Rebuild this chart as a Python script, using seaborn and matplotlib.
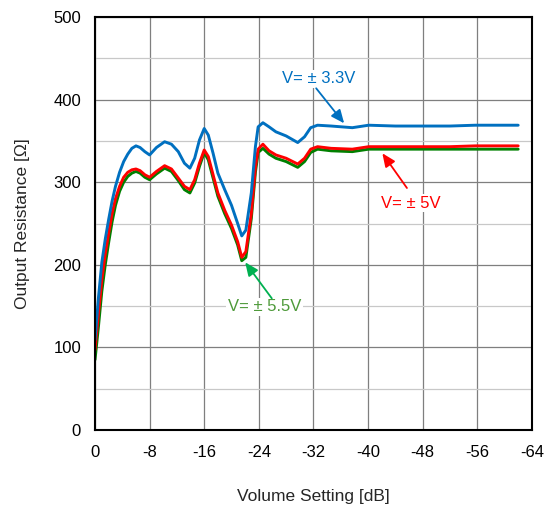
import matplotlib
matplotlib.use("Agg")
import matplotlib.pyplot as plt
import seaborn as sns
import pandas as pd
from matplotlib.ticker import MultipleLocator

volume_db = [0, -0.5, -1.0, -1.5, -2.0, -2.5, -3.0, -3.6, -4.2, -4.8, -5.4, -6.0, -6.6, -7.3, -8.0,
             -9.0, -10.2, -11.2, -12.2, -13.1, -13.9, -14.6, -15.3, -16.0, -16.6, -17.3, -18.0,
             -19.0, -20.0, -20.9, -21.5, -22.1, -22.9, -23.5, -23.9, -24.6, -25.5, -26.5, -28.0,
             -29.7, -30.7, -31.6, -32.6, -34.6, -37.7, -40.1, -44, -48, -52, -55.7, -60, -62]
r_3v3 = [109, 160, 203, 231, 255, 277, 295, 312, 325, 334, 341, 344, 342, 337, 333,
         342, 349, 346, 337, 323, 317, 329, 351, 365, 357, 335, 311,
         291, 272, 250, 235, 242, 287, 343, 367, 372, 367, 361, 356,
         348, 355, 366, 369, 368, 366, 369, 368, 368, 368, 369, 369, 369]
r_5v = [97, 140, 182, 213, 238, 262, 280, 295, 306, 312, 315, 316, 314, 309, 306,
        313, 320, 316, 305, 295, 291, 303, 323, 339, 331, 309, 287,
        266, 248, 228, 209, 216, 262, 318, 340, 346, 338, 333, 329,
        322, 329, 340, 343, 341, 340, 343, 343, 343, 343, 344, 344, 344]
r_5v5 = [85, 125, 168, 200, 227, 252, 272, 289, 300, 307, 311, 313, 311, 306, 303,
         310, 317, 313, 302, 291, 287, 299, 319, 336, 327, 305, 283,
         262, 244, 224, 205, 209, 256, 312, 336, 341, 334, 329, 325,
         318, 325, 336, 340, 338, 337, 340, 340, 340, 340, 340, 340, 340]

x_ticks = [0, -8, -16, -24, -32, -40, -48, -56, -64]
series_names = ["V=±3.3V", "V=±5V", "V=±5.5V"]
colors = {"V=±3.3V": "#0070C0", "V=±5V": "#FF0000", "V=±5.5V": "#008000"}

df = pd.concat([
    pd.DataFrame({"dB": volume_db, "R": r_3v3, "series": series_names[0]}),
    pd.DataFrame({"dB": volume_db, "R": r_5v, "series": series_names[1]}),
    pd.DataFrame({"dB": volume_db, "R": r_5v5, "series": series_names[2]}),
])

sns.set_style("white")
plt.rcParams["font.family"] = ["Liberation Sans", "DejaVu Sans"]

fig = plt.figure(figsize=(5.54, 5.15), dpi=100)
ax = fig.add_axes([0.1715, 0.165, 0.7885, 0.802])

sns.lineplot(data=df, x="dB", y="R", hue="series", hue_order=series_names[::-1],
             palette=colors, linewidth=2.1, legend=False, ax=ax, sort=False,
             solid_joinstyle="round", solid_capstyle="round")

ax.set_xlim(0, -64)
ax.set_ylim(0, 500)
ax.set_xticks(x_ticks)
ax.set_xticklabels([str(t) for t in x_ticks])
ax.yaxis.set_major_locator(MultipleLocator(100))
ax.yaxis.set_minor_locator(MultipleLocator(50))
ax.grid(which="major", axis="both", color="#7f7f7f", linewidth=0.9)
ax.grid(which="minor", axis="y", color="#c8c8c8", linewidth=0.9)
ax.set_axisbelow(True)
for s in ax.spines.values():
    s.set_color("black")
    s.set_linewidth(1.5)
ax.tick_params(axis="both", which="both", direction="in", labelsize=12, colors="black")
ax.tick_params(axis="both", which="major", length=5, width=1)
ax.tick_params(axis="x", which="major", pad=11)
ax.tick_params(axis="y", which="minor", length=3, width=1)
ax.tick_params(axis="y", which="major", pad=10)

ax.set_xlabel("Volume Setting [dB]", fontsize=12.5, labelpad=21)
ax.set_ylabel("Output Resistance [Ω]", fontsize=12.5, labelpad=17)

ann_fs = 12
box = dict(boxstyle="square,pad=0.1", fc="white", ec="none")
ax.text(-32.8, 425, "V= ± 3.3V", color="#0070C0", fontsize=ann_fs, ha="center", va="center", bbox=box)
ax.text(-46.2, 274.5, "V= ± 5V", color="#FF0000", fontsize=ann_fs, ha="center", va="center", bbox=box)
ax.text(-24.8, 149, "V= ± 5.5V", color="#4E9A3A", fontsize=ann_fs, ha="center", va="center", bbox=box)

arrow_style = "-|>,head_length=0.8,head_width=0.35"
ax.annotate("", xy=(-36.5, 371.3), xytext=(-32.4, 413.7),
            arrowprops=dict(arrowstyle=arrow_style, color="#0070C0", lw=1.3, shrinkA=0, shrinkB=0))
ax.annotate("", xy=(-42.1, 335), xytext=(-45.7, 293),
            arrowprops=dict(arrowstyle=arrow_style, color="#FF0000", lw=1.3, shrinkA=0, shrinkB=0))
ax.annotate("", xy=(-22.0, 203), xytext=(-25.9, 159.4),
            arrowprops=dict(arrowstyle=arrow_style, color="#00B050", lw=1.3, shrinkA=0, shrinkB=0))

fig.savefig("out.png", dpi=100)
